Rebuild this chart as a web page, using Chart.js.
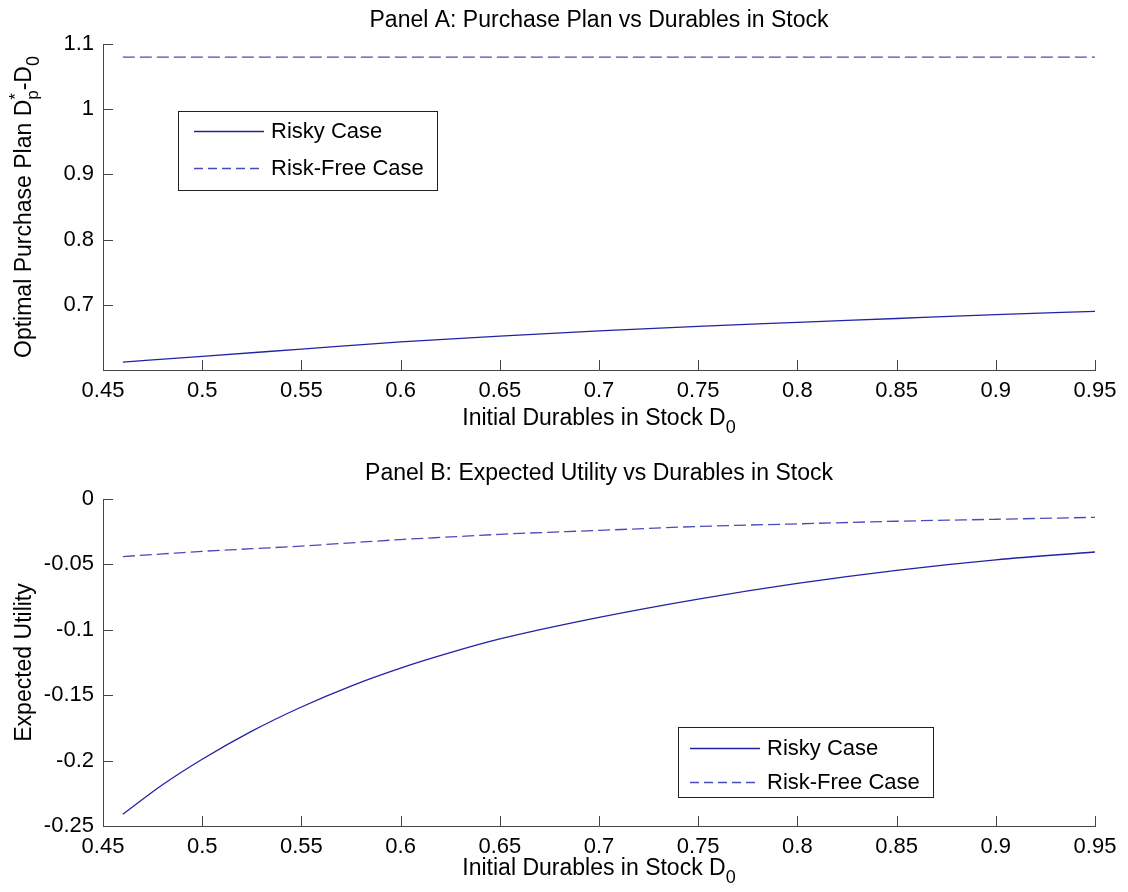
<!DOCTYPE html>
<html>
<head>
<meta charset="utf-8">
<script src="https://cdn.jsdelivr.net/npm/chart.js@4"></script>
<style>
  body { margin: 0; background: #fff; }
  canvas { display: block; }
</style>
</head>
<body>
<canvas id="chartA" width="1128" height="455"></canvas>
<canvas id="chartB" width="1128" height="437"></canvas>
<script>
// tick labels
const xTicks = [0.45, 0.5, 0.55, 0.6, 0.65, 0.7, 0.75, 0.8, 0.85, 0.9, 0.95];
const yTicksA = [0.7, 0.8, 0.9, 1, 1.1];
const yTicksB = [0, -0.05, -0.1, -0.15, -0.2, -0.25];

// Panel A: purchase plan
const durablesA = [0.46, 0.5, 0.55, 0.6, 0.65, 0.7, 0.75, 0.8, 0.85, 0.9, 0.95];
const riskyPlan = [0.612, 0.621, 0.632, 0.643, 0.652, 0.660, 0.667, 0.673, 0.679, 0.685, 0.690];
const riskFreePlan = [1.08, 1.08, 1.08, 1.08, 1.08, 1.08, 1.08, 1.08, 1.08, 1.08, 1.08];

// Panel B: expected utility
const durablesB = [0.46, 0.48, 0.5, 0.525, 0.55, 0.575, 0.6, 0.625, 0.65, 0.7, 0.75, 0.8, 0.85, 0.9, 0.95];
const riskyUtility = [-0.241, -0.2185, -0.199, -0.1775, -0.159, -0.143, -0.1293, -0.1175, -0.107, -0.0905, -0.0765, -0.0645, -0.0545, -0.0465, -0.0405];
const riskFreeUtility = [-0.044, -0.042, -0.040, -0.038, -0.036, -0.0335, -0.031, -0.029, -0.027, -0.024, -0.021, -0.019, -0.017, -0.0155, -0.014];

const seriesNames = ['Risky Case', 'Risk-Free Case'];

Chart.defaults.font.family = "'Liberation Sans', Arial, sans-serif";
Chart.defaults.font.size = 22;
Chart.defaults.color = '#000';
Chart.defaults.animation = false;

const FONT = "'Liberation Sans', Arial, sans-serif";
const AXIS = '#444';

function fmt(v) { return String(+Number(v).toFixed(3)); }

function pts(xs, ys) { return xs.map((x, i) => ({ x: x, y: ys[i] })); }

// ticks pointing into the plot, like the original
const inwardTicks = {
  id: 'inwardTicks',
  afterDatasetsDraw(chart) {
    const { ctx, chartArea: a, scales } = chart;
    ctx.save();
    ctx.strokeStyle = AXIS;
    ctx.lineWidth = 1;
    ctx.beginPath();
    scales.x.ticks.forEach(t => {
      const px = Math.round(scales.x.getPixelForValue(t.value)) + 0.5;
      ctx.moveTo(px, a.bottom);
      ctx.lineTo(px, a.bottom - 10);
    });
    scales.y.ticks.forEach(t => {
      const py = Math.round(scales.y.getPixelForValue(t.value)) + 0.5;
      ctx.moveTo(a.left, py);
      ctx.lineTo(a.left + 10, py);
    });
    ctx.stroke();
    ctx.restore();
  }
};

// text with sub/superscripts
function partWidth(ctx, p) {
  if (p.sup !== undefined) {
    ctx.font = '17px ' + FONT;
    return Math.max(ctx.measureText(p.sup).width, ctx.measureText(p.sub).width);
  }
  ctx.font = (p.sub ? '18px ' : '23px ') + FONT;
  return ctx.measureText(p.text).width;
}

function drawRich(ctx, parts, cx, cy) {
  ctx.textAlign = 'left';
  ctx.textBaseline = 'middle';
  const total = parts.reduce((s, p) => s + partWidth(ctx, p), 0);
  let x = cx - total / 2;
  parts.forEach(p => {
    const w = partWidth(ctx, p);
    if (p.sup !== undefined) {
      ctx.font = '17px ' + FONT;
      ctx.fillText(p.sup, x, cy - 9);
      ctx.fillText(p.sub, x, cy + 8);
    } else if (p.sub) {
      ctx.font = '18px ' + FONT;
      ctx.fillText(p.text, x, cy + 9);
    } else {
      ctx.font = '23px ' + FONT;
      ctx.fillText(p.text, x, cy);
    }
    x += w;
  });
}

// panel title and axis titles, centred on the plot area
const axisTitles = {
  id: 'axisTitles',
  afterDraw(chart, args, opts) {
    const { ctx, chartArea: a } = chart;
    const cx = (a.left + a.right) / 2;
    ctx.save();
    ctx.fillStyle = '#000';
    drawRich(ctx, [{ text: opts.title }], cx, opts.titleY);
    drawRich(ctx, opts.x, cx, a.bottom + opts.xOffset);
    ctx.translate(opts.yX, (a.top + a.bottom) / 2);
    ctx.rotate(-Math.PI / 2);
    drawRich(ctx, opts.y, 0, 0);
    ctx.restore();
  }
};

// boxed legend placed inside the axes
const boxLegend = {
  id: 'boxLegend',
  afterDraw(chart, args, opts) {
    const { ctx } = chart;
    const b = opts.box;
    ctx.save();
    ctx.fillStyle = '#fff';
    ctx.fillRect(b[0], b[1], b[2] - b[0], b[3] - b[1]);
    ctx.strokeStyle = '#222';
    ctx.lineWidth = 1;
    ctx.strokeRect(b[0] + 0.5, b[1] + 0.5, b[2] - b[0], b[3] - b[1]);
    chart.data.datasets.forEach((ds, i) => {
      const y = Math.round(opts.rows[i]) + 0.5;
      ctx.strokeStyle = ds.borderColor;
      ctx.lineWidth = ds.borderWidth;
      ctx.setLineDash(ds.legendDash || []);
      ctx.beginPath();
      ctx.moveTo(opts.line[0], y);
      ctx.lineTo(opts.line[1], y);
      ctx.stroke();
      ctx.setLineDash([]);
      ctx.fillStyle = '#000';
      ctx.font = '22px ' + FONT;
      ctx.textAlign = 'left';
      ctx.textBaseline = 'middle';
      ctx.fillText(ds.label, opts.textX, y);
    });
    ctx.restore();
  }
};

function makeDatasets(xs, risky, riskFree) {
  return [
    {
      label: seriesNames[0],
      data: pts(xs, risky),
      borderColor: '#2222a6',
      borderWidth: 1.3,
      pointRadius: 0,
      cubicInterpolationMode: 'monotone'
    },
    {
      label: seriesNames[1],
      data: pts(xs, riskFree),
      borderColor: '#4a4abb',
      borderWidth: 1.3,
      borderDash: [12, 5],
      legendDash: [9, 5],
      pointRadius: 0,
      cubicInterpolationMode: 'monotone'
    }
  ];
}

function makeScales(yMin, yMax, yTicks, xHeight) {
  return {
    x: {
      type: 'linear',
      min: 0.45,
      max: 0.95,
      afterBuildTicks: s => { s.ticks = xTicks.map(v => ({ value: v })); },
      afterFit: s => { s.height = xHeight; },
      grid: { display: false, drawTicks: false },
      border: { display: true, color: AXIS, width: 1 },
      ticks: { padding: 8, maxRotation: 0, autoSkip: false, callback: v => fmt(v) }
    },
    y: {
      type: 'linear',
      min: yMin,
      max: yMax,
      afterBuildTicks: s => { s.ticks = yTicks.map(v => ({ value: v })); },
      afterFit: s => { s.width = 103; },
      grid: { display: false, drawTicks: false },
      border: { display: true, color: AXIS, width: 1 },
      ticks: { padding: 9, autoSkip: false, callback: v => fmt(v) }
    }
  };
}

new Chart(document.getElementById('chartA'), {
  type: 'line',
  data: { datasets: makeDatasets(durablesA, riskyPlan, riskFreePlan) },
  options: {
    responsive: false,
    layout: { padding: { left: 0, right: 33, top: 44, bottom: 0 } },
    scales: makeScales(0.6, 1.1, yTicksA, 85),
    plugins: {
      legend: { display: false },
      tooltip: { enabled: false },
      axisTitles: {
        title: 'Panel A: Purchase Plan vs Durables in Stock',
        titleY: 21,
        x: [{ text: 'Initial Durables in Stock D' }, { text: '0', sub: true }],
        xOffset: 49,
        y: [{ text: 'Optimal Purchase Plan D' }, { sup: '*', sub: 'p' }, { text: '-D' }, { text: '0', sub: true }],
        yX: 25
      },
      boxLegend: {
        box: [178, 111, 437, 190],
        rows: [131, 168],
        line: [194, 264],
        textX: 271
      }
    }
  },
  plugins: [inwardTicks, axisTitles, boxLegend]
});

new Chart(document.getElementById('chartB'), {
  type: 'line',
  data: { datasets: makeDatasets(durablesB, riskyUtility, riskFreeUtility) },
  options: {
    responsive: false,
    layout: { padding: { left: 0, right: 33, top: 44, bottom: 0 } },
    scales: makeScales(-0.25, 0, yTicksB, 66),
    plugins: {
      legend: { display: false },
      tooltip: { enabled: false },
      axisTitles: {
        title: 'Panel B: Expected Utility vs Durables in Stock',
        titleY: 19,
        x: [{ text: 'Initial Durables in Stock D' }, { text: '0', sub: true }],
        xOffset: 43,
        y: [{ text: 'Expected Utility' }],
        yX: 25
      },
      boxLegend: {
        box: [678, 272, 933, 342],
        rows: [293, 327],
        line: [690, 760],
        textX: 767
      }
    }
  },
  plugins: [inwardTicks, axisTitles, boxLegend]
});
</script>
</body>
</html>
